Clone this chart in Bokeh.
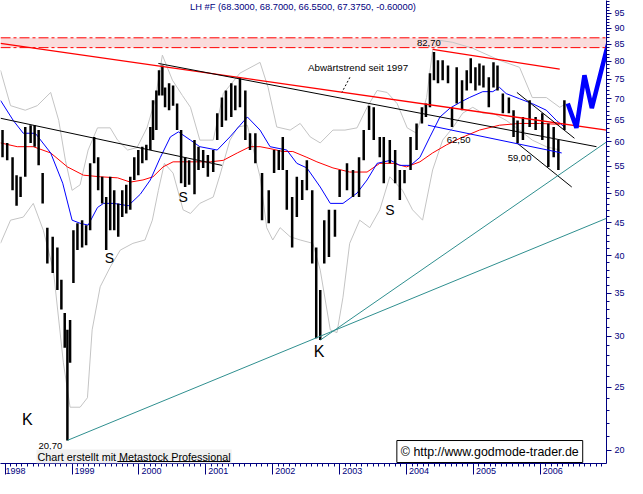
import math
from bokeh.plotting import figure
from bokeh.models import (FixedTicker, PrintfTickFormatter, Label, BoxAnnotation,
                          Span, Arrow, Range1d, ColumnDataSource)
from bokeh.embed import file_html
from bokeh.resources import INLINE

# ---------------- data ----------------
bar_date = [1997.96, 1998.03, 1998.11, 1998.17, 1998.23, 1998.30, 1998.38, 1998.44, 1998.50, 1998.56,
            1998.63, 1998.71, 1998.78, 1998.84, 1998.89, 1998.93, 1998.97, 1999.02, 1999.08, 1999.15,
            1999.21, 1999.27, 1999.33, 1999.39, 1999.45, 1999.51, 1999.57, 1999.63, 1999.69, 1999.75,
            1999.81, 1999.87, 1999.93, 1999.99, 2000.05, 2000.11, 2000.17, 2000.21, 2000.26, 2000.30,
            2000.35, 2000.39, 2000.45, 2000.51, 2000.57, 2000.63, 2000.69, 2000.75, 2000.83, 2000.89,
            2000.96, 2001.03, 2001.11, 2001.17, 2001.24, 2001.30, 2001.38, 2001.44, 2001.51, 2001.59,
            2001.66, 2001.74, 2001.84, 2001.94, 2002.02, 2002.09, 2002.15, 2002.21, 2002.29, 2002.36,
            2002.44, 2002.51, 2002.59, 2002.65, 2002.71, 2002.77, 2002.84, 2002.93, 2003.00, 2003.11,
            2003.20, 2003.29, 2003.36, 2003.44, 2003.51, 2003.60, 2003.66, 2003.75, 2003.83, 2003.90,
            2003.97, 2004.06, 2004.15, 2004.23, 2004.29, 2004.35, 2004.41, 2004.47, 2004.54, 2004.62,
            2004.68, 2004.75, 2004.83, 2004.90, 2004.96, 2005.03, 2005.09, 2005.15, 2005.23, 2005.30,
            2005.36, 2005.44, 2005.53, 2005.60, 2005.66, 2005.74, 2005.84, 2005.93, 2006.03, 2006.12,
            2006.20, 2006.27, 2006.36]
bar_high = [62.6, 59.8, 56.8, 53.3, 53.0, 63.3, 63.7, 63.7, 62.6, 53.7,
            44.2, 42.8, 41.2, 36.7, 32.6, 30.7, 31.8, 43.8, 44.9, 45.4,
            44.6, 55.6, 61.1, 56.8, 53.0, 49.3, 53.0, 50.5, 48.2, 50.5,
            51.5, 53.0, 56.8, 58.3, 59.0, 59.4, 63.3, 69.6, 72.1, 77.5,
            78.8, 72.9, 74.0, 73.4, 68.8, 62.6, 56.8, 56.2, 60.4, 59.0,
            58.3, 57.3, 58.3, 66.5, 70.3, 72.1, 74.0, 73.4, 75.3, 72.1,
            61.9, 61.9, 53.7, 50.5, 58.3, 58.3, 61.1, 54.3, 49.3, 53.0,
            52.4, 56.2, 50.5, 41.2, 35.4, 45.4, 47.1, 47.1, 54.3, 55.6,
            54.3, 56.8, 62.6, 68.3, 67.9, 61.1, 61.1, 60.4, 58.3, 54.3,
            54.3, 61.1, 64.1, 67.9, 68.8, 76.7, 82.7, 80.3, 80.3, 78.8,
            67.9, 78.3, 74.8, 77.5, 80.9, 78.3, 79.4, 78.8, 75.6, 79.7,
            78.8, 71.3, 70.3, 67.2, 64.8, 65.6, 69.6, 65.6, 66.5, 64.1,
            63.3, 60.4, 69.6]
bar_low = [56.8, 56.2, 50.5, 47.8, 49.3, 53.0, 59.8, 59.0, 55.2, 48.2,
           38.9, 37.6, 35.4, 33.0, 28.8, 20.7, 27.3, 36.3, 40.8, 41.2,
           41.5, 43.8, 55.6, 50.5, 48.2, 40.8, 43.8, 43.8, 42.8, 45.9,
           46.5, 47.1, 52.4, 53.3, 55.6, 56.2, 58.3, 60.4, 62.6, 70.8,
           70.8, 67.9, 67.2, 68.3, 62.6, 51.8, 51.1, 51.5, 49.8, 54.3,
           54.7, 53.0, 53.9, 60.4, 63.3, 64.8, 65.6, 67.2, 67.9, 60.4,
           58.3, 55.6, 45.4, 44.9, 53.7, 54.3, 54.3, 47.1, 41.2, 45.9,
           48.8, 50.5, 38.9, 29.8, 29.6, 38.9, 39.8, 42.8, 49.3, 50.5,
           49.3, 49.3, 56.2, 62.6, 60.4, 56.8, 51.8, 55.6, 51.8, 48.8,
           51.8, 54.3, 58.3, 64.1, 65.6, 67.9, 74.8, 74.0, 74.8, 74.0,
           63.3, 68.8, 67.2, 72.1, 74.0, 72.1, 73.4, 72.9, 67.9, 72.9,
           72.1, 66.5, 66.5, 61.1, 59.8, 60.4, 63.3, 62.6, 60.4, 54.9,
           56.8, 54.3, 62.6]

ma_fast_date = [1997.93, 1998.12, 1998.27, 1998.45, 1998.68, 1998.86, 1999.00, 1999.12, 1999.24, 1999.38,
                1999.47, 1999.62, 1999.84, 2000.02, 2000.17, 2000.32, 2000.47, 2000.59, 2000.77, 2000.91,
                2001.17, 2001.36, 2001.62, 2001.81, 2001.96, 2002.21, 2002.36, 2002.51, 2002.71, 2002.86,
                2003.05, 2003.26, 2003.41, 2003.56, 2003.76, 2003.90, 2004.06, 2004.20, 2004.35, 2004.50,
                2004.65, 2004.80, 2004.94, 2005.14, 2005.29, 2005.39, 2005.49, 2005.69, 2005.88, 2006.09,
                2006.24, 2006.36]
ma_fast = [69.6, 64.8, 61.9, 61.9, 57.7, 51.8, 45.4, 44.9, 44.6, 47.5,
           48.2, 48.2, 47.8, 49.8, 52.4, 56.8, 61.1, 62.2, 60.4, 59.0,
           58.3, 61.1, 65.6, 62.6, 59.0, 58.3, 55.6, 54.7, 51.1, 48.2,
           48.2, 50.0, 52.4, 55.6, 56.2, 55.2, 55.2, 56.8, 61.1, 65.6,
           67.7, 69.1, 70.3, 71.8, 71.8, 72.9, 71.3, 70.0, 68.8, 67.2,
           64.8, 63.3]

ma_slow_date = [1997.93, 1998.18, 1998.42, 1998.68, 1998.93, 1999.17, 1999.42, 1999.68, 1999.87, 2000.06,
                2000.21, 2000.36, 2000.51, 2000.81, 2001.07, 2001.26, 2001.47, 2001.66, 2001.81, 2001.96,
                2002.15, 2002.30, 2002.51, 2002.66, 2002.90, 2003.15, 2003.41, 2003.60, 2003.80, 2004.00,
                2004.20, 2004.39, 2004.60, 2004.80, 2005.09, 2005.39, 2005.69, 2005.99, 2006.29]
ma_slow = [59.8, 59.0, 59.0, 57.7, 54.9, 53.3, 53.0, 52.8, 52.0, 52.4,
           53.0, 54.9, 55.9, 55.9, 55.9, 56.2, 57.7, 59.0, 59.0, 58.6,
           58.0, 58.0, 56.8, 55.9, 54.7, 53.9, 53.9, 55.6, 55.6, 54.9,
           55.9, 57.7, 59.4, 60.8, 62.6, 63.7, 64.1, 64.1, 63.9]

band_up_date = [1997.93, 1998.08, 1998.30, 1998.48, 1998.68, 1998.80, 1998.90, 1999.00, 1999.12, 1999.24,
                1999.38, 1999.57, 1999.68, 1999.83, 1999.97, 2000.12, 2000.24, 2000.35, 2000.50, 2000.65,
                2000.77, 2000.91, 2001.11, 2001.26, 2001.51, 2001.81, 2001.93, 2002.06, 2002.26, 2002.41,
                2002.56, 2002.71, 2002.90, 2003.08, 2003.26, 2003.41, 2003.56, 2003.71, 2003.86, 2004.01,
                2004.15, 2004.30, 2004.39, 2004.50, 2004.69, 2004.99, 2005.39, 2005.69, 2005.88, 2006.09,
                2006.29, 2006.39]
band_up = [77.5, 68.3, 67.2, 68.3, 71.6, 64.8, 56.2, 50.5, 51.5, 58.3,
           63.1, 63.1, 60.4, 58.3, 58.8, 63.1, 69.6, 81.8, 74.8, 70.8,
           67.9, 60.4, 60.4, 71.3, 76.7, 79.7, 72.9, 63.3, 62.6, 64.1,
           61.1, 59.8, 62.6, 62.6, 63.1, 67.9, 72.1, 71.6, 68.8, 63.1,
           61.9, 70.3, 83.2, 86.2, 85.6, 83.8, 80.3, 78.3, 70.3, 70.3,
           67.9, 68.8]

band_lo_date = [1997.93, 1998.08, 1998.27, 1998.42, 1998.57, 1998.72, 1998.87, 1998.97, 1999.12, 1999.23,
                1999.30, 1999.42, 1999.57, 1999.72, 1999.91, 2000.09, 2000.20, 2000.29, 2000.38, 2000.51,
                2000.66, 2000.77, 2000.91, 2001.11, 2001.21, 2001.36, 2001.48, 2001.62, 2001.81, 2001.91,
                2002.00, 2002.11, 2002.26, 2002.41, 2002.60, 2002.71, 2002.86, 2002.96, 2003.05, 2003.15,
                2003.30, 2003.45, 2003.60, 2003.75, 2003.94, 2004.09, 2004.24, 2004.39, 2004.54, 2004.69,
                2004.84, 2004.99, 2005.14, 2005.29, 2005.49, 2005.69, 2005.88, 2006.09, 2006.29]
band_lo = [41.8, 45.4, 45.9, 48.2, 43.8, 38.0, 27.3, 23.3, 23.3, 24.1,
           30.7, 35.8, 38.4, 40.8, 41.8, 42.3, 45.4, 50.5, 55.6, 53.7,
           47.1, 46.5, 48.2, 49.3, 53.3, 60.4, 63.3, 63.7, 53.0, 44.2,
           42.3, 44.2, 42.8, 42.3, 41.8, 38.0, 30.7, 30.4, 34.5, 41.8,
           45.4, 44.2, 47.1, 53.0, 50.5, 47.1, 45.4, 54.3, 60.4, 63.1,
           66.5, 67.9, 66.5, 66.5, 64.8, 62.6, 60.4, 59.0, 58.3]

# hand-drawn trend lines: start date, start value, end date, end value
red_tl_x0 = [1997.93, 2004.39]
red_tl_y0 = [85.3, 83.5]
red_tl_x1 = [2006.99, 2006.29]
red_tl_y1 = [62.6, 77.8]
black_tl_x0 = [2000.29, 1997.93, 2005.65, 2005.65]
black_tl_y0 = [79.4, 65.3, 71.6, 59.8]
black_tl_x1 = [2006.84, 2001.24, 2006.51, 2006.47]
black_tl_y1 = [59.0, 55.2, 60.8, 51.1]
blue_tl_x0 = [2004.32]
blue_tl_y0 = [63.7]
blue_tl_x1 = [2006.32]
blue_tl_y1 = [57.7]
teal_tl_x0 = [1998.93, 2002.71]
teal_tl_y0 = [20.7, 29.6]
teal_tl_x1 = [2006.99, 2006.99]
teal_tl_y1 = [45.7, 60.0]

proj_date = [2006.41, 2006.54, 2006.66, 2006.77, 2007.03, 2007.12]
proj_val = [68.8, 63.1, 76.1, 67.7, 86.5, 78.0]

resist_low, resist_high = 84.0, 87.0
y_ticks = [20, 25, 30, 35, 40, 45, 50, 55, 60, 65, 70, 75, 80, 85, 90, 95]
years = list(range(1998, 2007))
title_text = "LH #F (68.3000, 68.7000, 66.5500, 67.3750, -0.60000)"

# ---------------- picture-pixel helpers (annotation placement only) ----------------
PX0, PPY = 4.7, 67.0          # pixel x of 1 Jan 1998, pixels per year
def ax(px):
    return 1998 + (px - PX0) / PPY
def ay(py):
    return 20 * math.exp((450.5 - py) / 281.0)

NAVY = "#000080"
FONT = "Liberation Sans"

p = figure(width=627, height=478, output_backend="svg", toolbar_location=None,
           y_axis_type="log", y_axis_location="right",
           x_range=Range1d(ax(0), ax(607)), y_range=Range1d(ay(464), ay(0)),
           min_border_left=0, min_border_top=0, min_border_right=20, min_border_bottom=14)
p.outline_line_color = None
p.grid.visible = False
p.background_fill_color = "white"
p.border_fill_color = "white"

# right (log) axis
ya = p.yaxis[0]
ya.ticker = FixedTicker(ticks=y_ticks, minor_ticks=list(range(18, 100)))
ya.formatter = PrintfTickFormatter(format="%d")
ya.axis_line_color = NAVY
ya.major_tick_line_color = NAVY
ya.minor_tick_line_color = NAVY
ya.major_tick_in = 0
ya.major_tick_out = 5
ya.minor_tick_in = 0
ya.minor_tick_out = 3
ya.major_label_standoff = 3
ya.major_label_text_color = NAVY
ya.major_label_text_font = FONT
ya.major_label_text_font_size = "9px"

# bottom axis: long year ticks, labels pushed right of the tick with no-break spaces
xa = p.xaxis[0]
xa.ticker = FixedTicker(ticks=years, minor_ticks=[y + m / 12 for y in range(1997, 2008) for m in range(12)])
xa.major_label_overrides = {yr: "\u00a0" * (2 if yr == years[0] else 10) + str(yr) for yr in years}
xa.axis_line_color = NAVY
xa.major_tick_line_color = NAVY
xa.minor_tick_line_color = NAVY
xa.major_tick_in = 0
xa.major_tick_out = 11
xa.minor_tick_in = 0
xa.minor_tick_out = 3
xa.major_label_standoff = -9
xa.major_label_text_color = NAVY
xa.major_label_text_font = FONT
xa.major_label_text_font_size = "9px"

# resistance zone
p.add_layout(BoxAnnotation(bottom=resist_low, top=resist_high, fill_color="#fadcdc", fill_alpha=1.0,
                           line_color=None, level="underlay"))
for lvl in (resist_low, resist_high):
    p.add_layout(Span(location=lvl, dimension="width", line_color="red", line_width=1,
                      line_dash="10 3 3 3"))

# bands and moving averages
p.line(band_up_date, band_up, line_color="#c4c4c4", line_width=1)
p.line(band_lo_date, band_lo, line_color="#c4c4c4", line_width=1)
p.line(ma_slow_date, ma_slow, line_color="red", line_width=1)
p.line(ma_fast_date, ma_fast, line_color="blue", line_width=1)

# price bars
src = ColumnDataSource(dict(date=bar_date, high=bar_high, low=bar_low))
p.segment(x0="date", y0="low", x1="date", y1="high", source=src, line_color="black", line_width=2.5)

# trend lines
p.segment(red_tl_x0, red_tl_y0, red_tl_x1, red_tl_y1, line_color="red", line_width=1.3)
p.segment(black_tl_x0, black_tl_y0, black_tl_x1, black_tl_y1, line_color="black", line_width=1)
p.segment(blue_tl_x0, blue_tl_y0, blue_tl_x1, blue_tl_y1, line_color="blue", line_width=1)
p.segment(teal_tl_x0, teal_tl_y0, teal_tl_x1, teal_tl_y1, line_color="#2f8f8f", line_width=1)

# projection
p.line(proj_date, proj_val, line_color="blue", line_width=4.5)

def label(px, py, text, size, align="left", baseline="middle", color="black", **kw):
    p.add_layout(Label(x=ax(px), y=ay(py), text=text, text_font=FONT, text_font_size=size,
                       text_align=align, text_baseline=baseline, text_color=color, **kw))

label(303, 7, title_text, "9.3px", align="center", color=NAVY)
label(441, 43, "82,70", "9.5px", align="right")
label(447, 140, "62,50", "9.5px")
label(508, 158, "59,00", "9.5px")
label(38, 446, "20,70", "9.5px")
label(308, 67, "Abwärtstrend seit 1997", "9.8px")
p.add_layout(Arrow(end=None, x_start=ax(350), y_start=ay(77), x_end=ax(342), y_end=ay(92),
                   line_color="black", line_width=1, line_dash="2 2"))
for kx, ky in [(27, 420), (319, 352)]:
    label(kx, ky, "K", "16px", align="center")
for sx, sy in [(109, 258), (183, 197), (390, 210)]:
    label(sx, sy, "S", "14px", align="center")

# footer texts
label(397, 452, "© http://www.godmode-trader.de", "12.4px", border_line_color="black",
      background_fill_color="white", padding=4)
label(36, 457, "Chart erstellt mit Metastock Professional", "10.8px",
      background_fill_color="#f0f0f0", padding=1)
p.add_layout(BoxAnnotation(left=ax(117), right=ax(230), bottom=ay(462.5), top=ay(461.5),
                           fill_color="black", fill_alpha=1.0, line_color=None))

open("out.html", "w").write(file_html(p, INLINE))
